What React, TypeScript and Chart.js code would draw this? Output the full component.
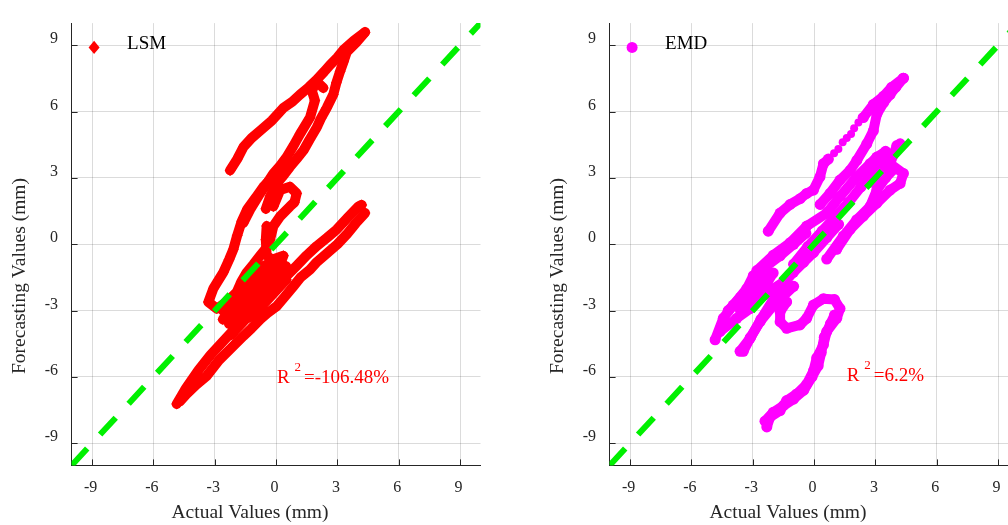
import React, { useEffect, useRef } from "react";
import { Chart, registerables } from "chart.js";

Chart.register(...registerables);

type Pt = [number, number];

// ---------- axes ----------
const AXIS_MIN = -10;
const AXIS_MAX = 10;
const TICKS = [-9, -6, -3, 0, 3, 6, 9];
const TICK_LABELS = ["-9", "-6", "-3", "0", "3", "6", "9"];
const X_TITLE = "Actual Values (mm)";
const Y_TITLE = "Forecasting Values (mm)";

// ---------- reference line y = x ----------
const DIAGONAL_X = [-10, 10];
const DIAGONAL_Y = [-10, 10];

// ---------- legend / annotations ----------
const LSM_NAME = "LSM";
const EMD_NAME = "EMD";
const LSM_R2_VALUE = "=-106.48%";
const EMD_R2_VALUE = "=6.2%";
const LSM_R2_AT: Pt = [0.05, -6.27];
const EMD_R2_AT: Pt = [1.6, -6.18];
const LEGEND_MARK_AT: Pt = [-8.9, 8.9];

// ---------- LSM series (actual, forecast) ----------
const LSM_UPPER: Pt[] = [
  [-2.25, 3.34], [-1.9, 3.85], [-1.6, 4.39], [-1.2, 4.8], [-0.78, 5.13], [-0.2, 5.6],
  [0.36, 6.17], [0.8, 6.45], [1.17, 6.77], [1.6, 7.1], [1.99, 7.44], [2.35, 7.8],
  [2.64, 8.11], [3.0, 8.45], [3.29, 8.78], [3.8, 9.2], [4.35, 9.59],
];
const LSM_RETURN: Pt[] = [
  [4.35, 9.59], [3.9, 9.1], [3.46, 8.7], [3.3, 8.25], [3.13, 7.81], [2.95, 7.3],
  [2.8, 6.77], [2.48, 6.17], [2.2, 5.7], [1.99, 5.28], [1.65, 4.75], [1.34, 4.24],
  [1.0, 3.85], [0.68, 3.5], [0.35, 3.1], [0.03, 2.75], [-0.29, 2.16], [-0.5, 1.6],
];
const LSM_INNER: Pt[] = [
  [2.31, 7.07], [1.99, 7.36], [1.75, 6.95], [1.9, 6.5], [1.66, 5.73], [1.17, 4.98],
  [0.85, 4.45], [0.52, 3.94], [0.2, 3.55], [-0.13, 3.2], [-0.45, 2.75], [-0.78, 2.3],
  [-1.27, 1.56], [-1.6, 0.96],
];
const LSM_LEFT_LOOP: Pt[] = [
  [-0.13, 1.71], [0.2, 2.45], [0.68, 2.6], [1.01, 2.3], [0.9, 1.9], [0.68, 1.71],
  [0.2, 1.26], [-0.13, 0.82], [-0.29, 0.22], [-0.5, -0.2], [-0.78, -0.52], [-1.1, -0.9],
  [-1.43, -1.27], [-1.7, -1.7], [-1.92, -2.16], [-2.41, -2.61], [-2.9, -2.91], [-3.31, -2.61],
  [-3.07, -2.01], [-2.8, -1.6], [-2.58, -1.27], [-2.3, -0.7], [-2.09, -0.23], [-1.9, 0.4],
  [-1.68, 1.04], [-1.4, 1.6], [-1.0, 2.1], [-0.62, 2.6], [-0.3, 2.9],
];
const LSM_CENTER: Pt[] = [
  [-0.46, 0.82], [-0.5, 0.2], [-0.46, -0.5], [-0.2, -0.7], [0.36, -0.52], [0.2, -0.9],
  [-0.3, -1.2], [-0.8, -1.6], [-1.3, -2.0], [-1.8, -2.5], [-2.3, -3.0], [-2.6, -3.4],
];
const LSM_CORE: Pt[] = [
  [-2.3, -3.6], [-1.6, -3.0], [-0.9, -2.3], [-0.2, -1.6], [0.5, -1.0], [0.3, -1.6],
  [-0.4, -2.3], [-1.1, -3.0], [-1.7, -3.6], [-2.2, -4.1],
];
const LSM_CORE_2: Pt[] = [
  [-2.6, -3.0], [-2.0, -2.3], [-1.4, -1.6], [-0.9, -1.1], [-0.4, -0.9], [-0.9, -1.9],
  [-1.5, -2.5], [-2.0, -3.2], [-1.3, -3.3], [-0.7, -2.8], [-0.1, -2.2], [0.5, -1.6],
];
const LSM_LOWER_A: Pt[] = [
  [4.19, 1.78], [4.03, 1.71], [3.5, 1.2], [2.97, 0.67], [2.5, 0.3], [1.99, -0.08],
  [1.5, -0.5], [1.01, -0.97], [0.6, -1.35], [0.2, -1.71], [-0.46, -2.31], [-1.1, -2.9],
  [-1.8, -3.6], [-2.5, -4.3], [-3.2, -5.0], [-3.8, -5.7], [-4.4, -6.5], [-4.86, -7.22],
];
const LSM_LOWER_B: Pt[] = [
  [4.35, 1.41], [3.9, 0.95], [3.46, 0.45], [3.0, 0.0], [2.48, -0.42], [2.0, -0.8],
  [1.66, -1.15], [1.2, -1.5], [0.85, -1.9], [0.4, -2.4], [0.03, -2.8], [-0.4, -3.1],
  [-0.78, -3.4], [-1.2, -3.8], [-1.6, -4.15], [-2.25, -4.75], [-2.8, -5.25], [-3.39, -5.95],
  [-3.9, -6.35], [-4.37, -6.77], [-4.7, -7.1],
];

// ---------- EMD series (actual, forecast) ----------
const EMD_LEFT_RISE: Pt[] = [
  [-2.24, 0.59], [-1.66, 1.41], [-1.17, 1.8], [-0.68, 2.06], [-0.36, 2.3], [-0.03, 2.45],
  [0.29, 3.05], [0.46, 3.64], [0.7, 3.85],
];
const EMD_DOTS: Pt[] = [
  [0.98, 4.12], [1.19, 4.31], [1.4, 4.61], [1.6, 4.8], [1.81, 4.98], [1.96, 5.25],
  [2.17, 5.5], [2.33, 5.73],
];
const EMD_UPPER: Pt[] = [
  [2.41, 5.73], [2.9, 6.32], [3.39, 6.69], [3.8, 7.1], [4.37, 7.51],
];
const EMD_RETURN: Pt[] = [
  [4.37, 7.51], [4.0, 7.1], [3.72, 6.77], [3.4, 6.4], [3.07, 5.88], [2.9, 5.13],
  [2.58, 4.54], [2.09, 3.79], [1.76, 3.34], [1.27, 2.9], [0.78, 2.3], [0.3, 1.8],
];
const EMD_MID_A: Pt[] = [
  [-2.8, -1.19], [-2.0, -0.5], [-1.17, 0.07], [-0.36, 0.82], [0.62, 1.41], [1.27, 2.16],
  [2.09, 3.05], [2.74, 3.64], [3.07, 3.94], [3.5, 4.2],
];
const EMD_TIP: Pt[] = [
  [4.21, 4.54], [3.86, 4.09], [3.56, 3.64], [3.2, 3.2], [2.74, 2.8],
];
const EMD_RIGHT_EDGE: Pt[] = [
  [4.05, 4.46], [3.72, 3.64], [4.37, 3.2], [4.21, 2.75], [3.72, 2.45], [3.07, 1.86],
  [2.41, 1.27], [1.76, 0.67], [1.11, -0.23],
];
const EMD_MID_B: Pt[] = [
  [0.62, -0.67], [1.43, 0.37], [2.09, 1.11], [2.74, 1.71], [3.07, 2.45], [3.5, 3.0], [3.9, 3.4],
];
const EMD_MID_C: Pt[] = [
  [-1.0, -0.9], [-0.3, -0.1], [0.4, 0.6], [1.0, 1.2], [1.7, 1.9], [2.3, 2.6], [2.9, 3.3], [3.4, 3.9],
];
const EMD_LOW_A: Pt[] = [
  [-4.84, -4.32], [-4.44, -3.35], [-3.95, -2.75], [-3.29, -2.01], [-2.97, -1.42], [-2.31, -0.97],
  [-1.66, -0.52], [-1.0, 0.0], [-0.4, 0.5],
];
const EMD_LOW_B: Pt[] = [
  [-4.6, -3.95], [-3.78, -3.35], [-3.13, -2.91], [-2.48, -2.31], [-1.99, -2.01], [-1.5, -1.71],
  [-1.01, -1.27], [-0.52, -0.82], [-0.03, -0.38], [0.62, 0.3], [1.2, 0.9],
];
const EMD_LOW_C: Pt[] = [
  [0.3, 0.3], [-0.3, -0.4], [-0.9, -1.1], [-1.5, -1.8], [-2.0, -2.5], [-2.6, -3.4],
  [-3.1, -4.2], [-3.46, -4.84],
];
const EMD_LOW_D: Pt[] = [
  [-1.0, -1.9], [-1.99, -2.76], [-2.64, -3.5], [-3.13, -4.25], [-3.62, -4.84],
];
const EMD_LOW_E: Pt[] = [
  [-4.2, -3.0], [-3.6, -2.4], [-3.0, -1.9], [-2.5, -1.6], [-2.0, -1.3], [-2.4, -1.9],
  [-3.0, -2.5], [-3.6, -3.0],
];
const EMD_HOOK: Pt[] = [
  [-1.34, -2.61], [-1.66, -3.05], [-1.66, -3.5], [-1.34, -3.8], [-0.69, -3.65], [-0.36, -3.35],
  [-0.03, -2.75], [0.46, -2.46], [1.0, -2.5], [1.27, -2.91], [1.11, -3.35], [0.62, -3.95],
  [0.46, -4.54], [0.13, -5.14], [-0.03, -5.73], [-0.36, -6.33], [-0.85, -6.77], [-1.34, -7.07],
  [-1.66, -7.52], [-2.15, -7.82], [-2.31, -8.26],
];
const EMD_HOOK_B: Pt[] = [
  [1.0, -3.2], [0.8, -3.6], [0.5, -4.2], [0.35, -4.9], [0.2, -5.5], [-0.1, -6.0],
  [-0.5, -6.6], [-1.0, -7.0], [-1.5, -7.3], [-2.0, -7.6], [-2.4, -8.0],
];

const LSM_TRACES = [LSM_UPPER, LSM_RETURN, LSM_INNER, LSM_LEFT_LOOP, LSM_CENTER, LSM_CORE, LSM_CORE_2, LSM_LOWER_A, LSM_LOWER_B];
const EMD_TRACES = [EMD_LEFT_RISE, EMD_UPPER, EMD_RETURN, EMD_MID_A, EMD_TIP, EMD_RIGHT_EDGE, EMD_MID_B, EMD_MID_C, EMD_LOW_A, EMD_LOW_B, EMD_LOW_C, EMD_LOW_D, EMD_LOW_E, EMD_HOOK, EMD_HOOK_B];

// ---------- styles ----------
const FONT = "'Liberation Serif', 'Times New Roman', serif";
const AXIS_COLOR = "#262626";
const GRID_COLOR = "rgba(0,0,0,0.14)";
const GREEN = "#00f000";
const RED = "#ff0000";
const MAGENTA = "#ff00ff";

const toXY = (pts: Pt[]) => pts.map(([x, y]) => ({ x, y }));

function drawMarker(ctx: CanvasRenderingContext2D, style: string, cx: number, cy: number, r: number, color: string) {
  ctx.fillStyle = color;
  ctx.beginPath();
  if (style === "rectRot") {
    ctx.moveTo(cx, cy - r * 1.2);
    ctx.lineTo(cx + r, cy);
    ctx.lineTo(cx, cy + r * 1.2);
    ctx.lineTo(cx - r, cy);
    ctx.closePath();
  } else {
    ctx.arc(cx, cy, r, 0, Math.PI * 2);
  }
  ctx.fill();
}

const decorPlugin = {
  id: "decor",
  afterDraw(chart: any, _args: any, opts: any) {
    const { ctx, chartArea: a } = chart;
    const xs = chart.scales.x;
    const ys = chart.scales.y;
    ctx.save();
    // inward tick marks
    ctx.strokeStyle = AXIS_COLOR;
    ctx.lineWidth = 1;
    TICKS.forEach((v) => {
      const px = Math.round(xs.getPixelForValue(v)) + 0.5;
      ctx.beginPath();
      ctx.moveTo(px, a.bottom);
      ctx.lineTo(px, a.bottom - 6);
      ctx.stroke();
      const py = Math.round(ys.getPixelForValue(v)) + 0.5;
      ctx.beginPath();
      ctx.moveTo(a.left, py);
      ctx.lineTo(a.left + 6, py);
      ctx.stroke();
    });
    // legend
    const mx = xs.getPixelForValue(LEGEND_MARK_AT[0]);
    const my = ys.getPixelForValue(LEGEND_MARK_AT[1]);
    drawMarker(ctx, opts.pointStyle, mx, my, 5.5, opts.color);
    ctx.fillStyle = "#000";
    ctx.font = `19px ${FONT}`;
    ctx.textAlign = "left";
    ctx.textBaseline = "alphabetic";
    ctx.fillText(opts.name, mx + 33, my + 1.5);
    // R^2 annotation
    const rx = xs.getPixelForValue(opts.r2At[0]);
    const ry = ys.getPixelForValue(opts.r2At[1]);
    ctx.fillStyle = RED;
    ctx.font = `19px ${FONT}`;
    ctx.fillText("R", rx, ry);
    const wR = ctx.measureText("R ").width;
    ctx.font = `13px ${FONT}`;
    ctx.fillText("2", rx + wR, ry - 12);
    const w2 = ctx.measureText("2").width;
    ctx.font = `19px ${FONT}`;
    ctx.fillText(opts.r2, rx + wR + w2 + 3, ry);
    // axis titles
    ctx.fillStyle = AXIS_COLOR;
    ctx.font = `19.5px ${FONT}`;
    ctx.textAlign = "center";
    ctx.textBaseline = "middle";
    ctx.fillText(X_TITLE, 250, 513);
    ctx.translate(20, 276);
    ctx.rotate(-Math.PI / 2);
    ctx.fillText(Y_TITLE, 0, 0);
    ctx.restore();
  },
};

function makeScale(isX: boolean) {
  return {
    type: "linear",
    min: AXIS_MIN,
    max: AXIS_MAX,
    afterBuildTicks: (s: any) => {
      s.ticks = TICKS.map((v) => ({ value: v }));
    },
    afterFit: (s: any) => {
      if (isX) s.height = 59.6;
      else s.width = 71.6;
    },
    grid: { color: GRID_COLOR, lineWidth: 1, drawTicks: false },
    border: { display: true, color: AXIS_COLOR, width: 1 },
    ticks: {
      padding: isX ? 13 : 13.5,
      labelOffset: isX ? -1.5 : -6,
      color: AXIS_COLOR,
      font: { size: 16, family: FONT },
      maxRotation: 0,
      autoSkip: false,
      callback: (_v: any, i: number) => TICK_LABELS[i],
    },
  };
}

type PanelProps = {
  left: number;
  traces: Pt[][];
  dots: Pt[];
  color: string;
  pointStyle: string;
  name: string;
  r2: string;
  r2At: Pt;
};

function Panel({ left, traces, dots, color, pointStyle, name, r2, r2At }: PanelProps) {
  const ref = useRef<HTMLCanvasElement>(null);
  useEffect(() => {
    if (!ref.current) return;
    const datasets: any[] = [
      {
        data: DIAGONAL_X.map((x, i) => ({ x, y: DIAGONAL_Y[i] })),
        showLine: true,
        borderColor: GREEN,
        borderWidth: 6,
        borderDash: [23, 19],
        borderCapStyle: "butt",
        pointRadius: 0,
        order: 0,
      },
      ...traces.map((t) => ({
        data: toXY(t),
        showLine: true,
        borderColor: color,
        backgroundColor: color,
        borderWidth: 10,
        borderCapStyle: "round",
        borderJoinStyle: "round",
        tension: 0,
        pointStyle,
        pointRadius: 5.5,
        pointBorderWidth: 0,
        order: 1,
      })),
      {
        data: toXY(dots),
        showLine: false,
        backgroundColor: color,
        borderColor: color,
        pointStyle,
        pointRadius: 4,
        pointBorderWidth: 0,
        order: 1,
      },
    ];
    const chart = new Chart(ref.current, {
      type: "scatter",
      data: { datasets },
      options: {
        responsive: false,
        animation: false,
        devicePixelRatio: 1,
        events: [],
        layout: { padding: { top: 17.6, right: 19.5, bottom: 0, left: 0 } },
        plugins: {
          legend: { display: false },
          tooltip: { enabled: false },
          decor: { color, pointStyle, name, r2, r2At },
        } as any,
        scales: { x: makeScale(true), y: makeScale(false) } as any,
      },
      plugins: [decorPlugin as any],
    });
    return () => chart.destroy();
  }, []);
  return (
    <canvas
      ref={ref}
      width={500}
      height={525}
      style={{ position: "absolute", left, top: 0, width: 500, height: 525 }}
    />
  );
}

export default function App() {
  return (
    <div
      style={{
        position: "fixed",
        left: 0,
        top: 0,
        width: 1008,
        height: 525,
        overflow: "hidden",
        background: "#fff",
      }}
    >
      <Panel left={0} traces={LSM_TRACES} dots={[]} color={RED} pointStyle="rectRot" name={LSM_NAME} r2={LSM_R2_VALUE} r2At={LSM_R2_AT} />
      <Panel left={538} traces={EMD_TRACES} dots={EMD_DOTS} color={MAGENTA} pointStyle="circle" name={EMD_NAME} r2={EMD_R2_VALUE} r2At={EMD_R2_AT} />
    </div>
  );
}
